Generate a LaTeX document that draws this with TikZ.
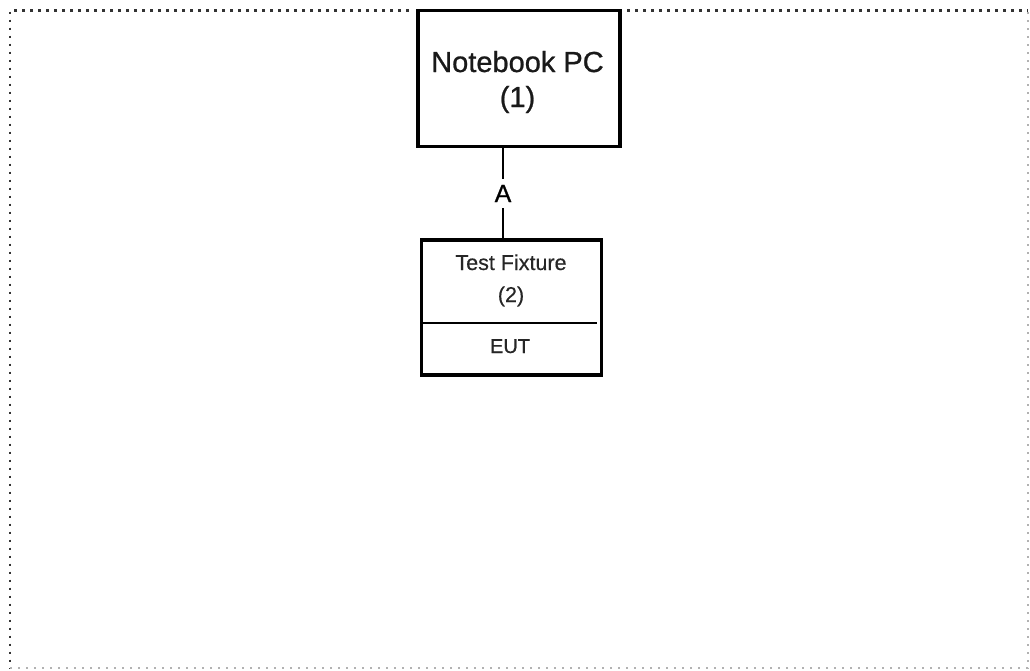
\documentclass[tikz,border=0pt]{standalone}
\usepackage{fontspec}
\setmainfont{Liberation Sans}
\newfontfamily\heavyfont[FakeBold=0.8]{Liberation Sans}
\newfontfamily\semifont[FakeBold=0.4]{Liberation Sans}
\begin{document}
\begin{tikzpicture}[x=1pt,y=-1pt,
  boxnode/.style={draw=black,line width=3.2pt,rectangle,inner sep=0pt},
  bigtext/.style={font=\heavyfont\fontsize{29}{35}\selectfont,align=center,inner sep=0pt,text=black!90},
  midtext/.style={font=\semifont\fontsize{21.5}{32}\selectfont,align=center,inner sep=0pt,text=black!85},
  wire/.style={line width=2.4pt,draw=black},
  borderdark/.style={line width=2.8pt,dash pattern=on 2.8pt off 5.2pt,draw=black!80},
  borderlight/.style={line width=2.2pt,dash pattern=on 2.2pt off 5.8pt,draw=black!30}
]
\useasboundingbox (0,0) rectangle (1030,670);
% dotted frame
\draw[borderdark] (409,10.5) -- (10,10.5) -- (10,668);
\draw[borderdark] (627,10.5) -- (1028,10.5);
\draw[borderlight] (10,668) -- (1028,668) -- (1028,10.5);
% Notebook PC
\node[boxnode,minimum width=202pt,minimum height=136pt] (pc) at (519,78.5) {};
\node[bigtext,anchor=base] (pct) at (517.5,72) {Notebook PC};
\node[bigtext,anchor=base] (pcn) at (517.5,107) {(1)};
% Test Fixture
\node[boxnode,minimum width=180pt,minimum height=135pt] (fix) at (511.7,307.5) {};
\node[midtext,anchor=base] (fixt) at (511,270) {Test Fixture};
\node[midtext,anchor=base] (fixn) at (511,302) {(2)};
\coordinate (divl) at (421,323);
\coordinate (divr) at (597,323);
\draw[line width=2.2pt] (divl) -- (divr);
\node[midtext,anchor=base,font=\semifont\fontsize{20}{24}\selectfont] (eut) at (510,353) {EUT};
% connector A
\coordinate (pcb) at (503,147);
\coordinate (fixtop) at (503,240);
\draw[wire] (pcb) -- node[fill=white,inner ysep=6pt,inner xsep=2pt,font=\heavyfont\fontsize{25}{30}\selectfont] (lab) {A} (fixtop);
\end{tikzpicture}
\end{document}
